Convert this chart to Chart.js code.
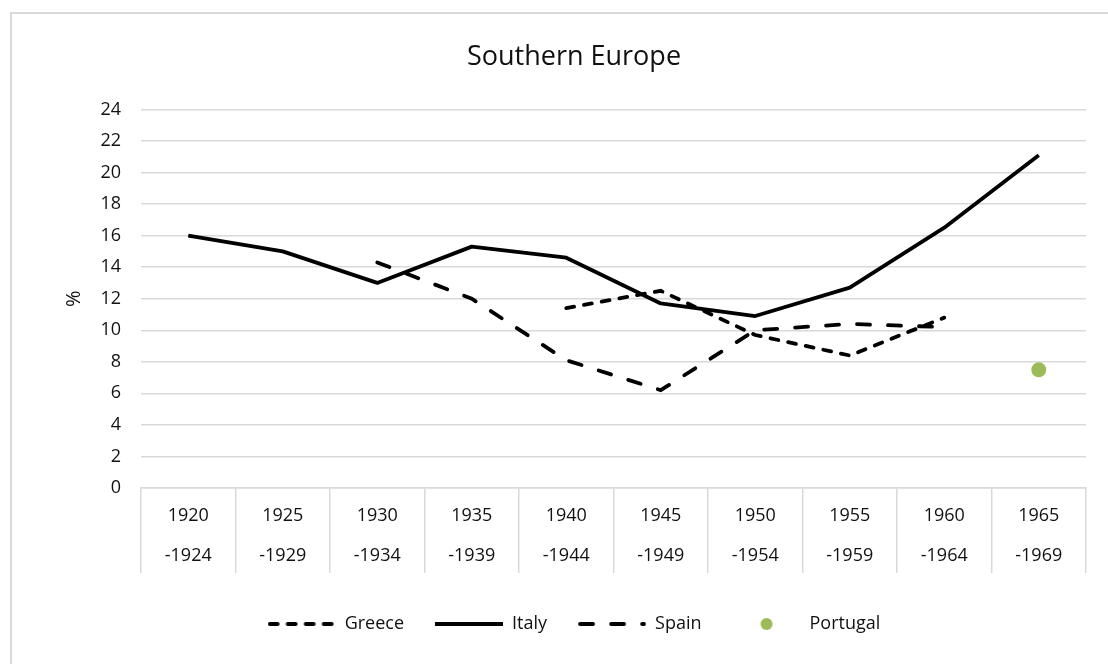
<!DOCTYPE html>
<html>
<head>
<meta charset="utf-8">
<script src="https://cdn.jsdelivr.net/npm/chart.js@4.4.1/dist/chart.umd.min.js"></script>
<style>
  html, body { margin: 0; padding: 0; background: #fff; overflow: hidden; }
  body { width: 1108px; height: 664px; position: relative; }
  #frame {
    position: absolute; left: 10px; top: 12px; width: 1120px; height: 680px;
    border-left: 2px solid #d9d9d9; border-top: 2px solid #d9d9d9;
  }
  #myChart { position: absolute; left: 10px; top: 12px; }
</style>
</head>
<body>
<div id="frame"></div>
<canvas id="myChart" width="1098" height="652"></canvas>
<script>
const periods = [
  ["1920", "-1924"], ["1925", "-1929"], ["1930", "-1934"], ["1935", "-1939"],
  ["1940", "-1944"], ["1945", "-1949"], ["1950", "-1954"], ["1955", "-1959"],
  ["1960", "-1964"], ["1965", "-1969"],
];
const greece = [null, null, null, null, 11.4, 12.5, 9.7, 8.4, 10.8, null];
const italy = [16, 15, 13, 15.3, 14.6, 11.7, 10.9, 12.7, 16.5, 21.1];
const spain = [null, null, 14.3, 12, 8.1, 6.2, 10, 10.4, 10.2, null];
const portugal = [null, null, null, null, null, null, null, null, null, 7.5];

const GRID = "#d9d9d9";
const TEXT = "#111";
const GREEN = "#9bbb59";
const LINE_W = 3.8;
const GREECE_DASH = [8, 10];
const SPAIN_DASH = [13, 18];

// legend samples drawn as little canvases (pointStyle images)
function legendLine(dash) {
  const c = document.createElement("canvas");
  c.width = 68;
  c.height = 10;
  const g = c.getContext("2d");
  g.strokeStyle = "#000";
  g.lineWidth = LINE_W;
  g.lineCap = dash.length ? "round" : "butt";
  g.setLineDash(dash);
  g.beginPath();
  g.moveTo(dash.length ? 2 : 0, 5);
  g.lineTo(dash.length ? 66 : 68, 5);
  g.stroke();
  return c;
}

function legendDot() {
  const c = document.createElement("canvas");
  c.width = 14;
  c.height = 14;
  const g = c.getContext("2d");
  g.fillStyle = GREEN;
  g.beginPath();
  g.arc(7, 7, 6, 0, Math.PI * 2);
  g.fill();
  return c;
}

function renderChart() {
  const ctx = document.getElementById("myChart");
  Chart.defaults.font.family = "'Open Sans', sans-serif";
  Chart.defaults.color = TEXT;
  const samples = {
    Greece: legendLine(GREECE_DASH),
    Italy: legendLine([]),
    Spain: legendLine(SPAIN_DASH),
    Portugal: legendDot(),
  };

  new Chart(ctx, {
    type: "line",
    data: {
      labels: periods,
      datasets: [
        { label: "Greece", data: greece, borderColor: "#000", borderWidth: LINE_W,
          borderDash: GREECE_DASH, borderCapStyle: "round", pointRadius: 0 },
        { label: "Italy", data: italy, borderColor: "#000", borderWidth: LINE_W,
          borderJoinStyle: "round", pointRadius: 0 },
        { label: "Spain", data: spain, borderColor: "#000", borderWidth: LINE_W,
          borderDash: SPAIN_DASH, borderCapStyle: "round", pointRadius: 0 },
        { label: "Portugal", data: portugal, showLine: false, pointStyle: "circle",
          pointRadius: 7.5, pointBackgroundColor: GREEN, pointBorderWidth: 0,
          backgroundColor: GREEN, borderColor: GREEN, borderWidth: 0 },
      ],
    },
    options: {
      responsive: false,
      devicePixelRatio: 1,
      animation: false,
      layout: { padding: { left: 52, right: 22, top: 0, bottom: 21 } },
      plugins: {
        title: {
          display: true,
          text: "Southern Europe",
          font: { size: 27, weight: "normal" },
          color: TEXT,
          padding: { top: 29, bottom: 36 },
        },
        legend: {
          position: "bottom",
          labels: {
            usePointStyle: true,
            pointStyleWidth: 68,
            padding: 31,
            font: { size: 18 },
            color: TEXT,
            generateLabels(chart) {
              const items = Chart.defaults.plugins.legend.labels.generateLabels(chart);
              items.forEach((item) => {
                item.pointStyle = samples[item.text];
                item.lineWidth = 0;
              });
              return items;
            },
          },
        },
        tooltip: { enabled: false },
      },
      scales: {
        x: {
          offset: true,
          grid: {
            offset: true,
            drawOnChartArea: false,
            drawTicks: true,
            tickLength: 85,
            color: GRID,
            lineWidth: 1.5,
          },
          border: { display: true, color: GRID, width: 1.5 },
          ticks: {
            font: { size: 18, lineHeight: 2.2 },
            color: TEXT,
            padding: -77,
            maxRotation: 0,
            autoSkip: false,
          },
          afterFit(scale) {
            scale.height = 96;
          },
        },
        y: {
          min: 0,
          max: 24,
          ticks: { stepSize: 2, font: { size: 18 }, color: TEXT, padding: 20 },
          grid: { color: GRID, lineWidth: 1.5, drawTicks: false },
          border: { display: false },
          title: {
            display: true,
            text: "%",
            font: { size: 20 },
            color: TEXT,
            padding: { top: 0, bottom: 0 },
          },
          afterFit(scale) {
            scale.width = 79;
          },
        },
      },
    },
  });
}

window.onload = function () {
  renderChart();
};
</script>
</body>
</html>
